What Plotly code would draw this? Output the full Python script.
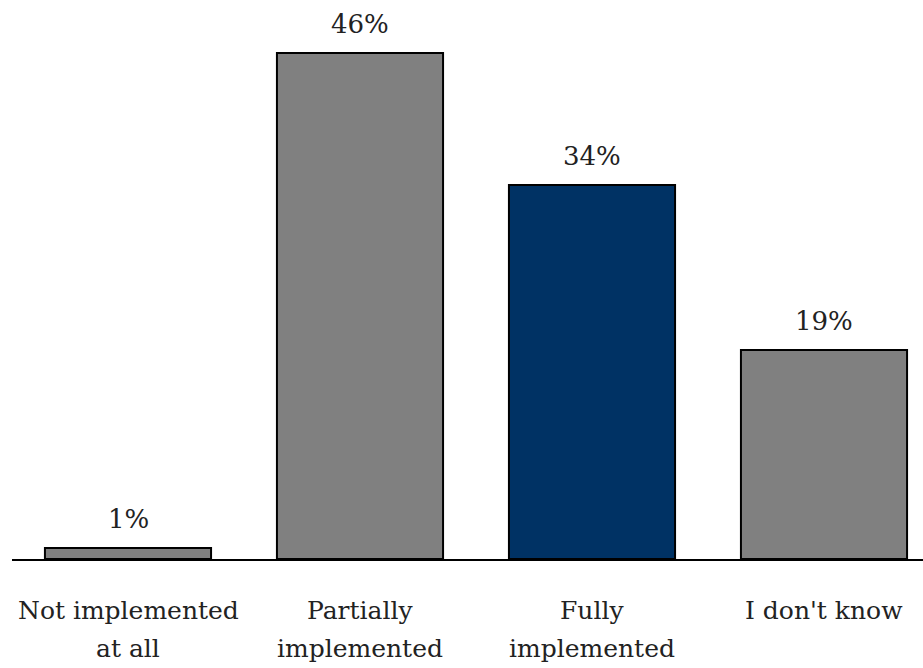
import plotly.graph_objects as go

categories = ["Not implemented<br>at all", "Partially<br>implemented", "Fully<br>implemented", "I don't know"]
values = [1, 46, 34, 19]
bar_colors = ["#808080", "#808080", "#003264", "#808080"]

FONT = "DejaVu Serif"
TEXT_COLOR = "#222222"

fig = go.Figure(
    go.Bar(
        x=list(range(len(categories))),
        y=values,
        marker=dict(color=bar_colors, line=dict(color="#000000", width=2)),
        width=0.716,
        hoverinfo="skip",
    )
)

# value labels above each bar
for i, v in enumerate(values):
    fig.add_annotation(
        x=i, y=v, text=f"{v}%", showarrow=False,
        yanchor="bottom", yshift=12,
        font=dict(family=FONT, size=26, color=TEXT_COLOR),
    )

# category labels under the axis, one annotation per line for looser leading
for i, cat in enumerate(categories):
    for j, line in enumerate(cat.split("<br>")):
        fig.add_annotation(
            x=i, xref="x", y=0, yref="paper", text=line, showarrow=False,
            yanchor="middle", yshift=-51 - 38 * j,
            font=dict(family=FONT, size=25, color=TEXT_COLOR),
        )

fig.update_layout(
    width=923, height=668,
    margin=dict(l=12, r=0, t=0, b=109),
    paper_bgcolor="white", plot_bgcolor="white",
    showlegend=False,
    font=dict(family=FONT),
    xaxis=dict(
        range=[-0.5, -0.5 + 911 / 232],
        showticklabels=False,
        showline=True, linecolor="#000000", linewidth=2,
        showgrid=False, zeroline=False, ticks="",
    ),
    yaxis=dict(
        range=[0, 559 / 11],
        visible=False, showgrid=False, zeroline=False,
    ),
)

fig.write_html("out.html")
